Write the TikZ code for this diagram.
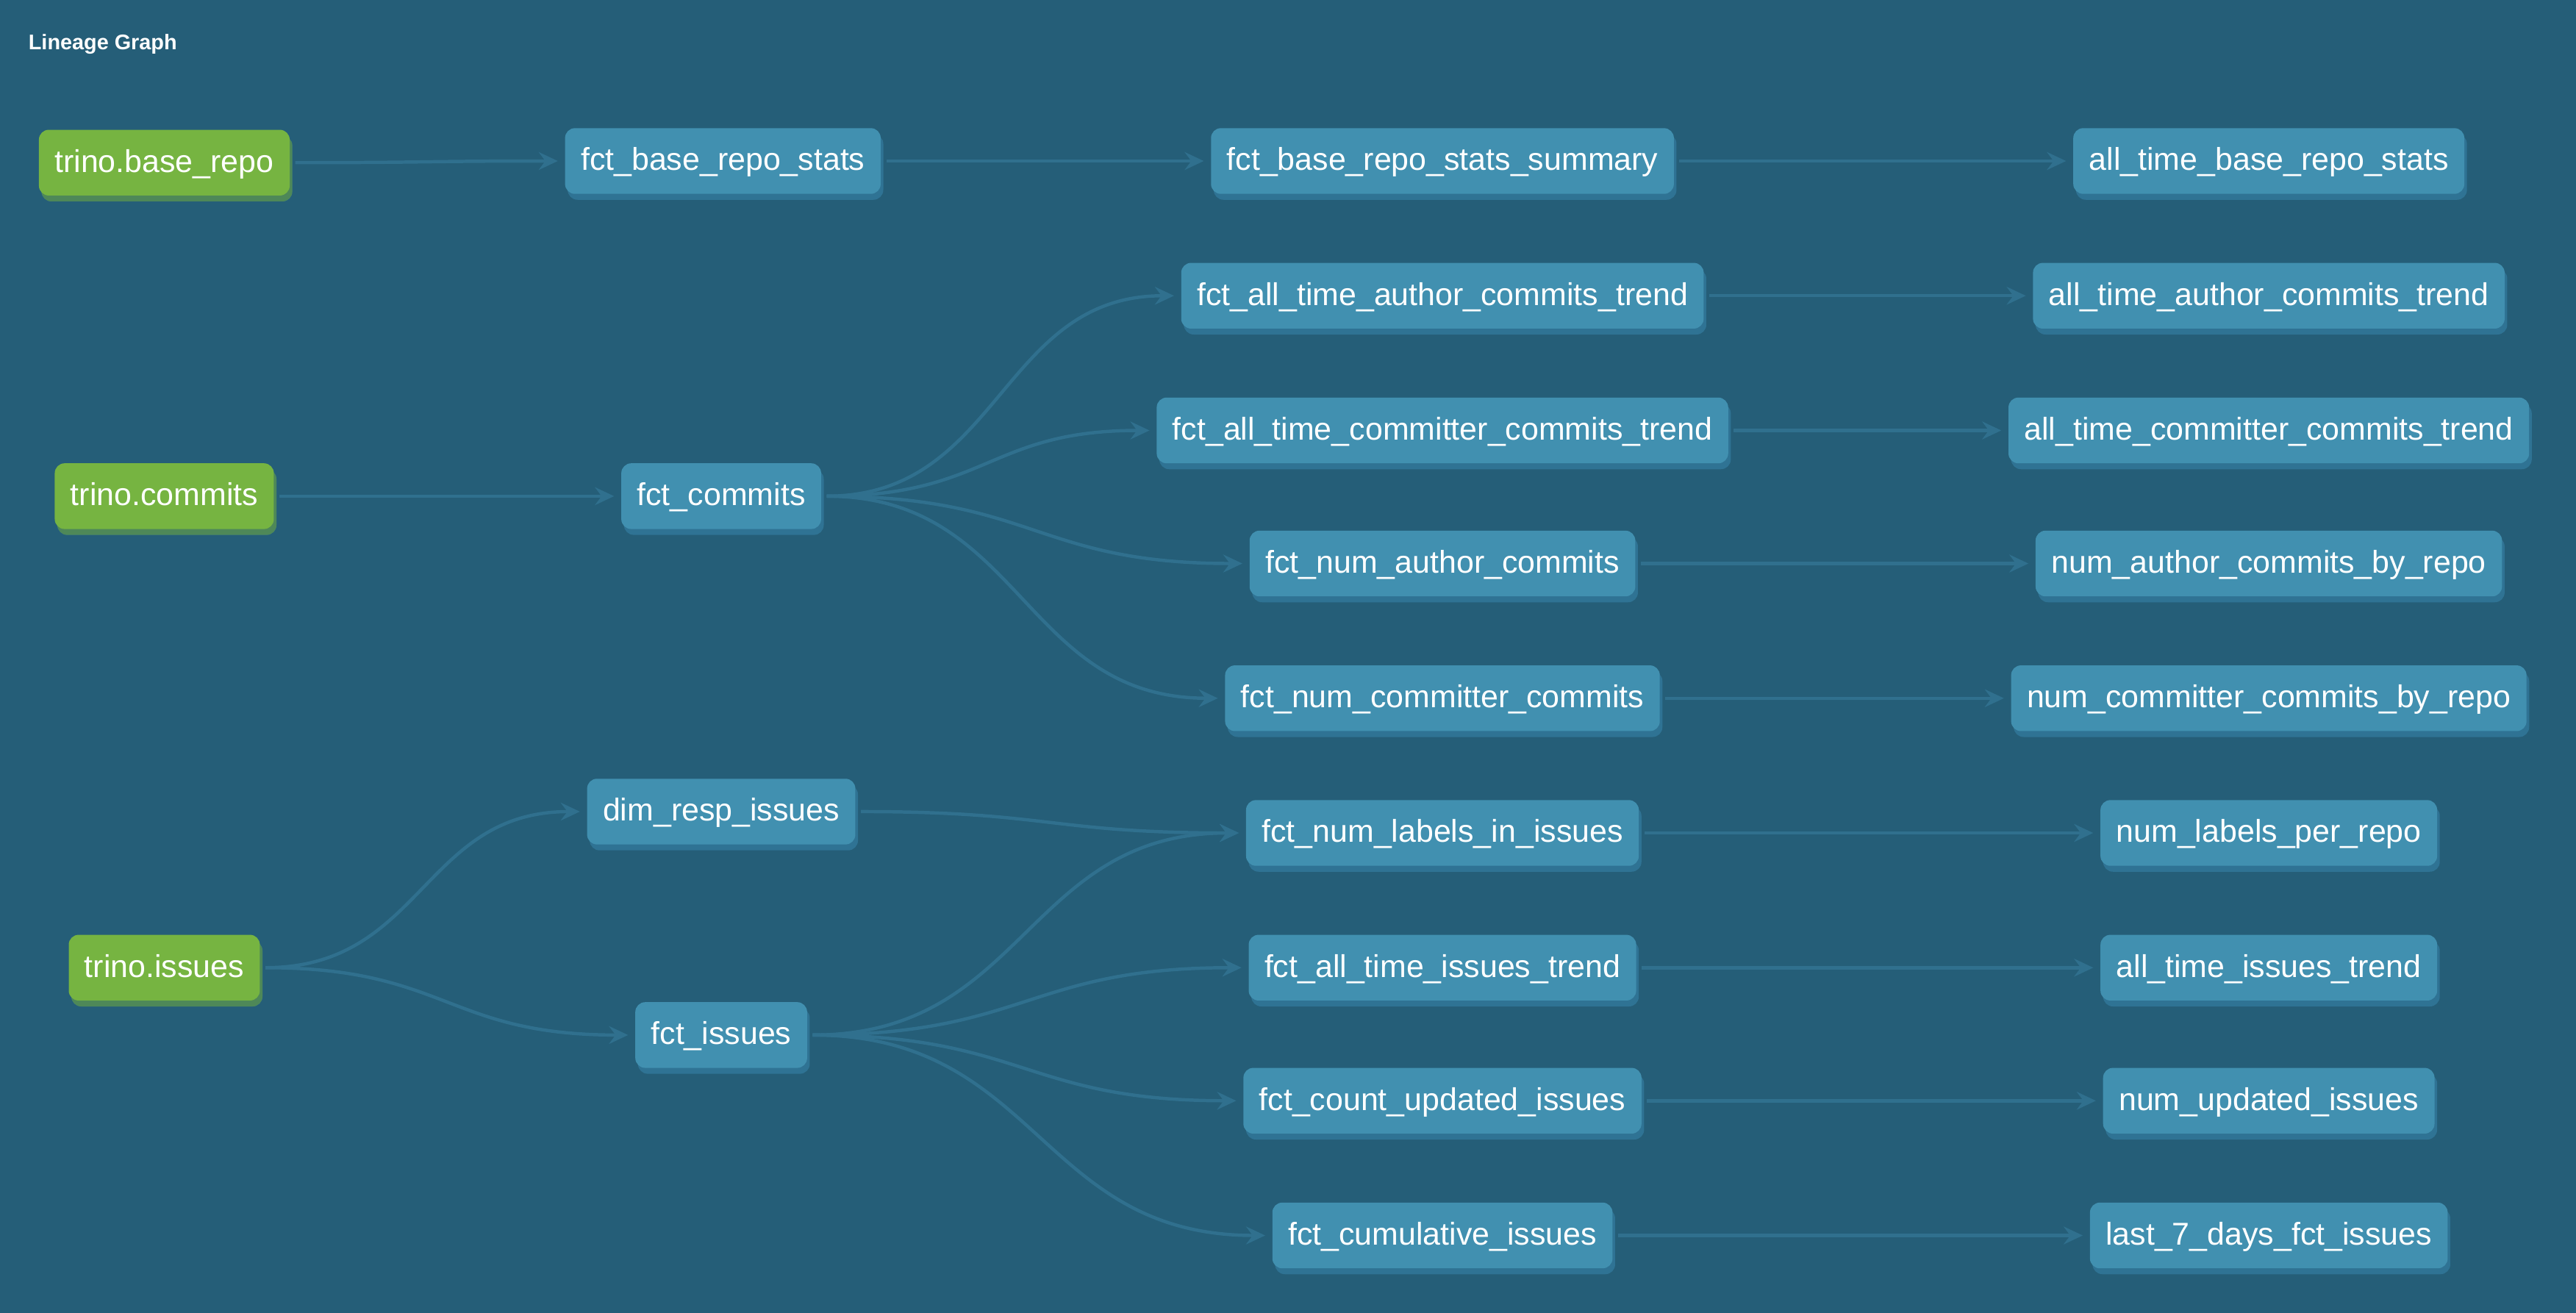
\documentclass[tikz,border=0pt]{standalone}
\usepackage{fontspec}
\setmainfont{Liberation Sans}
\usetikzlibrary{shadows,arrows.meta,calc}
\definecolor{bgc}{RGB}{37,94,120}
\definecolor{boxc}{RGB}{65,144,176}
\definecolor{boxsh}{RGB}{47,115,148}
\definecolor{srcc}{RGB}{118,180,65}
\definecolor{srcsh}{RGB}{78,136,88}
\definecolor{edgec}{RGB}{48,112,142}
\tikzset{
  model/.style={draw=none, fill=boxc, rounded corners=3pt, text=white,
    font=\fontsize{9.6pt}{11pt}\selectfont, minimum height=20pt,
    inner xsep=4.8pt, inner ysep=0pt, text height=7.8pt, text depth=2pt,
    general shadow={fill=boxsh, shadow xshift=0.8pt, shadow yshift=-1.8pt}},
  source/.style={model, fill=srcc,
    general shadow={fill=srcsh, shadow xshift=0.8pt, shadow yshift=-1.8pt}},
  edge/.style={draw=edgec, line width=1pt,
    -{Stealth[length=5.8pt,width=5.4pt,inset=2pt]}},
  title/.style={text=white, font=\bfseries\fontsize{6.45pt}{8pt}\selectfont,
    anchor=west, inner sep=0pt}
}
\newcommand\lgedge[2]{%
  \draw[edge] let \p1=($(#1.east)+(3,0)$), \p2=($(#2.west)+(-4,0)$),
    \n1={0.5*(\x2-\x1)} in
    (\p1) .. controls (\x1+\n1,\y1) and (\x2-\n1,\y2) .. (\p2);}
\begin{document}
\begin{tikzpicture}[x=0.5pt,y=-0.5pt]
\fill[bgc] (0,0) rectangle (1568,799.2);
\useasboundingbox (0,0) rectangle (1568,799.2);
\node[title] (ttl) at (17,27) {Lineage Graph};
% column 1
\node[source] (sbase) at (100,99) {trino.base\_repo};
\node[source] (scommits) at (100,302) {trino.commits};
\node[source] (sissues) at (100,589) {trino.issues};
% column 2
\node[model] (fbrs) at (440,98) {fct\_base\_repo\_stats};
\node[model] (fcommits) at (439,302) {fct\_commits};
\node[model] (dresp) at (439,494) {dim\_resp\_issues};
\node[model] (fissues) at (439,630) {fct\_issues};
% column 3
\node[model] (c1) at (878,98) {fct\_base\_repo\_stats\_summary};
\node[model] (c2) at (878,180) {fct\_all\_time\_author\_commits\_trend};
\node[model] (c3) at (878,262) {fct\_all\_time\_committer\_commits\_trend};
\node[model] (c4) at (878,343) {fct\_num\_author\_commits};
\node[model] (c5) at (878,425) {fct\_num\_committer\_commits};
\node[model] (c6) at (878,507) {fct\_num\_labels\_in\_issues};
\node[model] (c7) at (878,589) {fct\_all\_time\_issues\_trend};
\node[model] (c8) at (878,670) {fct\_count\_updated\_issues};
\node[model] (c9) at (878,752) {fct\_cumulative\_issues};
% column 4
\node[model] (d1) at (1381,98) {all\_time\_base\_repo\_stats};
\node[model] (d2) at (1381,180) {all\_time\_author\_commits\_trend};
\node[model] (d3) at (1381,262) {all\_time\_committer\_commits\_trend};
\node[model] (d4) at (1381,343) {num\_author\_commits\_by\_repo};
\node[model] (d5) at (1381,425) {num\_committer\_commits\_by\_repo};
\node[model] (d6) at (1381,507) {num\_labels\_per\_repo};
\node[model] (d7) at (1381,589) {all\_time\_issues\_trend};
\node[model] (d8) at (1381,670) {num\_updated\_issues};
\node[model] (d9) at (1381,752) {last\_7\_days\_fct\_issues};
% edges
\lgedge{sbase}{fbrs}
\lgedge{fbrs}{c1}
\lgedge{scommits}{fcommits}
\lgedge{fcommits}{c2}
\lgedge{fcommits}{c3}
\lgedge{fcommits}{c4}
\lgedge{fcommits}{c5}
\lgedge{sissues}{dresp}
\lgedge{sissues}{fissues}
\lgedge{dresp}{c6}
\lgedge{fissues}{c6}
\lgedge{fissues}{c7}
\lgedge{fissues}{c8}
\lgedge{fissues}{c9}
\foreach \i in {1,...,9}{\lgedge{c\i}{d\i}}
\end{tikzpicture}
\end{document}
